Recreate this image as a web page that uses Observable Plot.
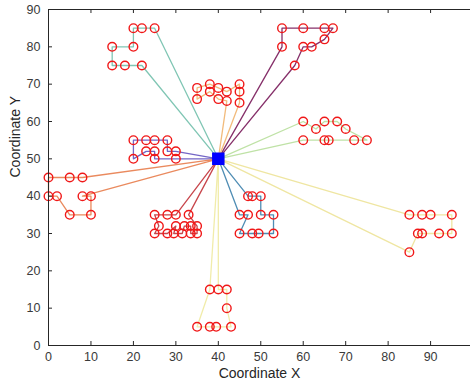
<!DOCTYPE html>
<html>
<head>
<meta charset="utf-8">
<script src="https://cdn.jsdelivr.net/npm/d3@7"></script>
<script src="https://cdn.jsdelivr.net/npm/@observablehq/plot@0.6"></script>
<style>
  html, body { margin: 0; padding: 0; background: #fff; }
  #chart svg { display: block; }
</style>
</head>
<body>
<div id="chart"></div>
<script>
// Base station (sink)
const sink = [40, 50];

// Cluster tours (node coordinates, visited in order, starting and ending at sink)
const cluster1 = [[25,85],[22,85],[20,85],[20,80],[15,80],[15,75],[18,75],[22,75]];
const cluster2 = [[55,80],[55,85],[60,85],[65,85],[67,85],[65,82],[62,80],[60,80],[58,75]];
const cluster3 = [[42,65.5],[40,66],[38,68],[35,66],[35,69],[38,70],[40,69],[42,68],[45,70],[45,68],[45,65]];
const cluster4 = [[60,60],[63,58],[65,60],[68,60],[70,58],[75,55],[72,55],[66,55],[65,55],[60,55]];
const cluster5 = [[30,52],[28,52],[28,55],[25,55],[23,55],[20,55],[20,50],[23,52],[25,52],[25,50],[30,50]];
const cluster6 = [[8,45],[5,45],[0,45],[0,40],[2,40],[5,35],[10,35],[10,40],[8,40]];
const cluster7 = [[33,35],[35,32],[35,30],[33.5,30],[33.5,32],[32,32],[31.5,30],[29.5,30],[30,32],[28,30],[25,30],[26,32],[25,35],[28,35],[30,35]];
const cluster8 = [[47,40],[48,40],[50,40],[50,35],[53,35],[53,30],[49.5,30],[48,30],[45,30],[47,35],[45,35]];
const cluster9 = [[85,35],[88,35],[90,35],[95,35],[95,30],[92,30],[88,30],[87,30],[85,25]];
const cluster10 = [[38,15],[35,5],[38,5],[39.5,5],[43,5],[42,10],[42,15],[40,15]];

const clusters = [cluster1, cluster2, cluster3, cluster4, cluster5, cluster6, cluster7, cluster8, cluster9, cluster10];
const clusterColors = ["#80c6b4", "#86306a", "#f2bb7c", "#bfe2a6", "#7466c6", "#ea8a5e", "#c8464c", "#4f8db4", "#efe6a2", "#f1ecaa"];

const xTicks = [0, 10, 20, 30, 40, 50, 60, 70, 80, 90];
const yTicks = [0, 10, 20, 30, 40, 50, 60, 70, 80, 90];
const xLabel = "Coordinate X";
const yLabel = "Coordinate Y";

// Build tables
const pathRows = [];
clusters.forEach((c, i) => {
  const tour = [sink, ...c, sink];
  tour.forEach(([x, y], k) => pathRows.push({x, y, cluster: i, order: k}));
});
const nodeRows = clusters.flatMap((c, i) => c.map(([x, y]) => ({x, y, cluster: i})));
const sinkRows = [{x: sink[0], y: sink[1]}];

const W = 470, H = 389;
const mL = 48, mR = 0, mT = 9, mB = 44;
const plotW = W - mL - mR, plotH = H - mT - mB;
const axisColor = "#262626";

const chart = Plot.plot({
  width: W,
  height: H,
  marginLeft: mL,
  marginRight: mR,
  marginTop: mT,
  marginBottom: mB,
  style: {fontFamily: "'Liberation Sans', Arial, sans-serif", fontSize: "12.5px", color: "#3a3a3a", background: "#fff"},
  x: {domain: [0, 99.4]},
  y: {domain: [0, 90]},
  color: {type: "ordinal", domain: d3.range(clusters.length), range: clusterColors},
  marks: [
    Plot.line(pathRows, {x: "x", y: "y", z: "cluster", stroke: d => d.cluster, strokeWidth: 1.3, curve: "linear"}),
    Plot.dot(nodeRows, {x: "x", y: "y", r: 4.3, stroke: "#f01818", strokeWidth: 1.4, fill: "none"}),
    Plot.dot(sinkRows, {x: "x", y: "y", symbol: "square", r: 6.2, fill: "#0000ff", stroke: "#0000ff"}),
    // axes frame (left, bottom, top)
    Plot.ruleX([0], {stroke: axisColor, strokeWidth: 1}),
    Plot.ruleY([0], {stroke: axisColor, strokeWidth: 1}),
    Plot.ruleY([90], {stroke: axisColor, strokeWidth: 1}),
    // inward ticks
    Plot.tickX(xTicks, {x: d => d, insetTop: plotH - 4, stroke: axisColor}),
    Plot.tickX(xTicks, {x: d => d, insetBottom: plotH - 4, stroke: axisColor}),
    Plot.tickY(yTicks, {y: d => d, insetRight: plotW - 4, stroke: axisColor}),
    Plot.axisX({ticks: xTicks, tickSize: 0, tickPadding: 7, tickFormat: d => String(d), label: null}),
    Plot.axisY({ticks: yTicks, tickSize: 0, tickPadding: 8, tickFormat: d => String(d), label: null}),
    Plot.text([xLabel], {text: d => d, frameAnchor: "bottom", dy: 32, fontSize: 14, fill: "#262626"}),
    Plot.text([yLabel], {text: d => d, frameAnchor: "left", dx: -33, rotate: -90, fontSize: 14, fill: "#262626"})
  ]
});
document.getElementById("chart").appendChild(chart);
</script>
</body>
</html>
